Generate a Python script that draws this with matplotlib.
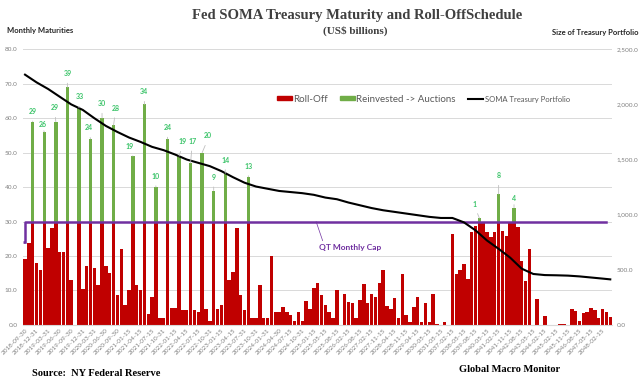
import numpy as np
import matplotlib
matplotlib.use("Agg")
import matplotlib.pyplot as plt
from matplotlib.patches import Patch
from matplotlib.lines import Line2D

# ---------------- data ----------------
tick_labels = ['2018-09-30','2018-12-31','2019-03-31','2019-06-30','2019-09-30','2019-12-31',
               '2020-03-31','2020-06-30','2020-09-30','2021-01-15','2021-04-15','2021-07-15',
               '2021-10-31','2022-01-15','2022-04-15','2022-07-15','2022-10-31','2023-01-15',
               '2023-04-15','2023-07-31','2023-10-31','2024-01-31','2024-04-30','2024-07-15',
               '2024-10-31','2025-01-15','2025-05-15','2025-08-15','2026-02-15','2026-08-15',
               '2027-02-15','2027-11-15','2028-04-15','2028-11-15','2029-04-15','2030-05-15',
               '2031-05-15','2037-02-15','2038-05-15','2039-08-15','2040-05-15','2041-02-15',
               '2041-11-15','2042-08-15','2043-05-15','2044-02-15','2045-02-15','2045-11-15',
               '2046-08-15','2047-05-15','2048-02-15']

roll_off = [19.0, 23.7, 30, 18.1, 15.8, 30, 22.3, 28.1, 30, 21.3,
            21.3, 30, 12.9, 0, 30, 10.5, 17.0, 30, 16.5, 11.7,
            30, 17.0, 15.0, 30, 8.6, 21.9, 5.7, 10.0, 30, 11.6,
            10.0, 30, 3.3, 8.0, 30, 2.1, 2.1, 30, 4.8, 4.8,
            30, 4.3, 4.3, 30, 4.3, 3.8, 30, 4.5, 1.0, 30,
            4.5, 5.8, 30, 13.0, 15.4, 28.0, 8.7, 4.3, 30, 1.9,
            1.9, 11.5, 1.9, 1.9, 20.0, 3.6, 3.8, 5.1, 3.6, 2.9,
            1.0, 3.6, 1.0, 7.0, 4.5, 10.8, 12.2, 8.7, 5.8, 3.6,
            1.9, 10.1, 0, 8.9, 6.7, 6.4, 1.9, 7.2, 12.0, 6.4,
            8.9, 8.2, 12.2, 16.0, 5.5, 4.5, 7.9, 1.9, 14.7, 2.9,
            0.7, 5.1, 8.2, 0.7, 6.3, 0.7, 8.9, 0.3, 0, 0.7,
            0, 26.4, 14.8, 15.8, 17.7, 13.3, 26.9, 28.8, 30, 30,
            26.9, 25.4, 26.9, 30, 27.4, 25.9, 30, 30, 28.4, 18.5,
            12.8, 22.0, 0, 7.5, 0, 2.5, 0, 0, 0, 0.2,
            0.2, 0, 4.5, 4.0, 1.2, 3.5, 3.8, 5.0, 4.2, 2.0,
            4.5, 3.8, 2.2]

reinvest_idx = [2, 5, 8, 11, 14, 17, 20, 23, 28, 31, 34, 37, 40, 43, 46, 49, 52, 58, 118, 123, 127]
reinvest_val = [29, 26, 29, 39, 33, 24, 30, 28, 19, 34, 10, 24, 19, 17, 20, 9, 14, 13, 1, 8, 4]

cap_values = [24] + [30] * 151

portfolio_idx = list(range(0, 151, 3)) + [152]
portfolio_val = [2270, 2200, 2140, 2070, 2000, 1950, 1875, 1805, 1750, 1700,
                 1660, 1615, 1585, 1545, 1500, 1470, 1440, 1395, 1340, 1290,
                 1255, 1235, 1215, 1205, 1195, 1180, 1155, 1140, 1110, 1085,
                 1060, 1040, 1025, 1010, 995, 980, 970, 970, 930, 858,
                 765, 690, 610, 510, 462, 452, 450, 447, 440, 430,
                 420, 413]

# ---------------- style ----------------
RED = '#C00000'
GREEN = '#70AD47'
PURPLE = '#7030A0'
LBL_GREEN = '#3CC46A'
GRAY = '#808080'
plt.rcParams['font.family'] = ['Lato', 'DejaVu Sans']

label_dx = [0, -1.5, -1, 0, 1, -1.5, 0, 1.8, -2.8, 0, -0.6, 0, 3.7, 1.5, 5.6, 0, 0, 0, -4.3, 0, 0]
label_dy = [10.3, 7.4, 14, 13.7, 11.3, 11, 14.6, 17, 9.7, 12.7, 11, 11.4, 14.3, 21.7, 16.7, 13.3, 13.3, 10.7, 14, 18.4, 9.4]

W, H = 640, 384
fig = plt.figure(figsize=(W / 100, H / 100), dpi=100)
x0, x1, ytop, ybot = 23.1, 612.2, 49.3, 324.9
ax = fig.add_axes([x0 / W, 1 - ybot / H, (x1 - x0) / W, (ybot - ytop) / H])
ax2 = ax.twinx()
ax.set_zorder(ax2.get_zorder() + 1)
ax.patch.set_visible(False)

n = len(roll_off)
cats = np.arange(n)
ax.bar(cats, roll_off, width=0.9, color=RED, zorder=2, linewidth=0)
bottoms = [roll_off[i] for i in reinvest_idx]
ax.bar(reinvest_idx, reinvest_val, bottom=bottoms, width=0.9, color=GREEN, zorder=2, linewidth=0)

# cap line
capx = np.arange(len(cap_values))
ax.step(capx, cap_values, where='pre', color=PURPLE, lw=1.8, zorder=3)
ax.hlines(cap_values[0], -0.5, 0, color=PURPLE, lw=1.8, zorder=3)

# portfolio line (right-axis units converted to left-axis scale)
scale = 80 / 2500
ax.plot(portfolio_idx, np.array(portfolio_val) * scale, color='black', lw=1.5, zorder=4)

# green labels
px = 0.72
for k, (i, v) in enumerate(zip(reinvest_idx, reinvest_val)):
    top = roll_off[i] + v
    ax.annotate(str(v), xy=(i, top), xytext=(label_dx[k] * px, label_dy[k] * px),
                textcoords='offset points', ha='center', va='center',
                fontsize=5, color=LBL_GREEN, fontweight='bold', zorder=5,
                arrowprops=dict(arrowstyle='-', color='#BFBFBF', lw=0.6,
                                shrinkA=2.5, shrinkB=0, relpos=(0.5, 0)))

ax.annotate('QT Monthly Cap', xy=(75.6, 30), xytext=(84.5, 22.6), ha='center', va='center',
            fontsize=6, color=PURPLE, fontweight='bold', zorder=5,
            arrowprops=dict(arrowstyle='-', color=PURPLE, lw=0.5, shrinkA=0, shrinkB=0,
                            relpos=(0.07, 1.0)))

# axes
ax.set_xlim(-0.5, n - 0.5)
ax.set_ylim(0, 80)
ax2.set_ylim(0, 2500)
ax.set_yticks(np.arange(0, 81, 10))
ax.set_yticklabels([f'{v:.1f}' for v in np.arange(0, 81, 10)])
ax2.set_yticks(np.arange(0, 2501, 500))
ax2.set_yticklabels([f'{v:,.1f}' for v in np.arange(0, 2501, 500)])
ax.set_xticks(cats[::3])
ax.set_xticklabels(tick_labels, rotation=45, ha='right', rotation_mode='anchor')
for a in (ax, ax2):
    a.tick_params(axis='both', length=0, labelsize=4.6, labelcolor=GRAY)
    for s in a.spines.values():
        s.set_visible(False)
ax.tick_params(axis='y', pad=4)
ax2.tick_params(axis='y', pad=3)
ax.tick_params(axis='x', pad=2)
ax.spines['bottom'].set_visible(True)
ax.spines['bottom'].set_color('#D9D9D9')
ax.yaxis.grid(True, color='#D9D9D9', lw=0.7, zorder=0)
ax.set_axisbelow(True)

# legend
handles = [Patch(color=RED, label='Roll-Off'),
           Patch(color=GREEN, label='Reinvested -> Auctions'),
           Line2D([], [], color='black', lw=1.5, label='SOMA Treasury Portfolio')]
leg = ax.legend(handles=handles, loc='center left', bbox_to_anchor=((277 - x0) / (x1 - x0), 1 - (99 - ytop) / (ybot - ytop)),
                ncol=3, frameon=False, fontsize=7, handlelength=1.5, handleheight=0.35,
                handletextpad=0.15, columnspacing=1.3, borderaxespad=0, borderpad=0)
for t in leg.get_texts():
    t.set_color('#595959')
leg.get_texts()[2].set_fontsize(5.5)

# titles & texts
serif = ['Liberation Serif', 'DejaVu Serif']
fig.text(357 / W, 1 - 15 / H, 'Fed SOMA Treasury Maturity and Roll-OffSchedule', ha='center', va='center',
         family=serif, fontweight='bold', fontsize=10.5, color='#404040')
fig.text(355 / W, 1 - 31 / H, '(US$ billions)', ha='center', va='center',
         family=serif, fontweight='bold', fontsize=8, color='#404040')
fig.text(7 / W, 1 - 30 / H, 'Monthly Maturities', ha='left', va='center', fontsize=5.5,
         fontweight='bold', color='#262626')
fig.text(638 / W, 1 - 33 / H, 'Size of Treasury Portfolio', ha='right', va='center', fontsize=5.5,
         fontweight='bold', color='#262626')
fig.text(32 / W, 1 - 373 / H, 'Source:  NY Federal Reserve', ha='left', va='center',
         family=serif, fontweight='bold', fontsize=7.5, color='black')
fig.text(459 / W, 1 - 370 / H, 'Global Macro Monitor', ha='left', va='center',
         family=serif, fontweight='bold', fontsize=7.5, color='black')

fig.savefig('out.png', dpi=100)
